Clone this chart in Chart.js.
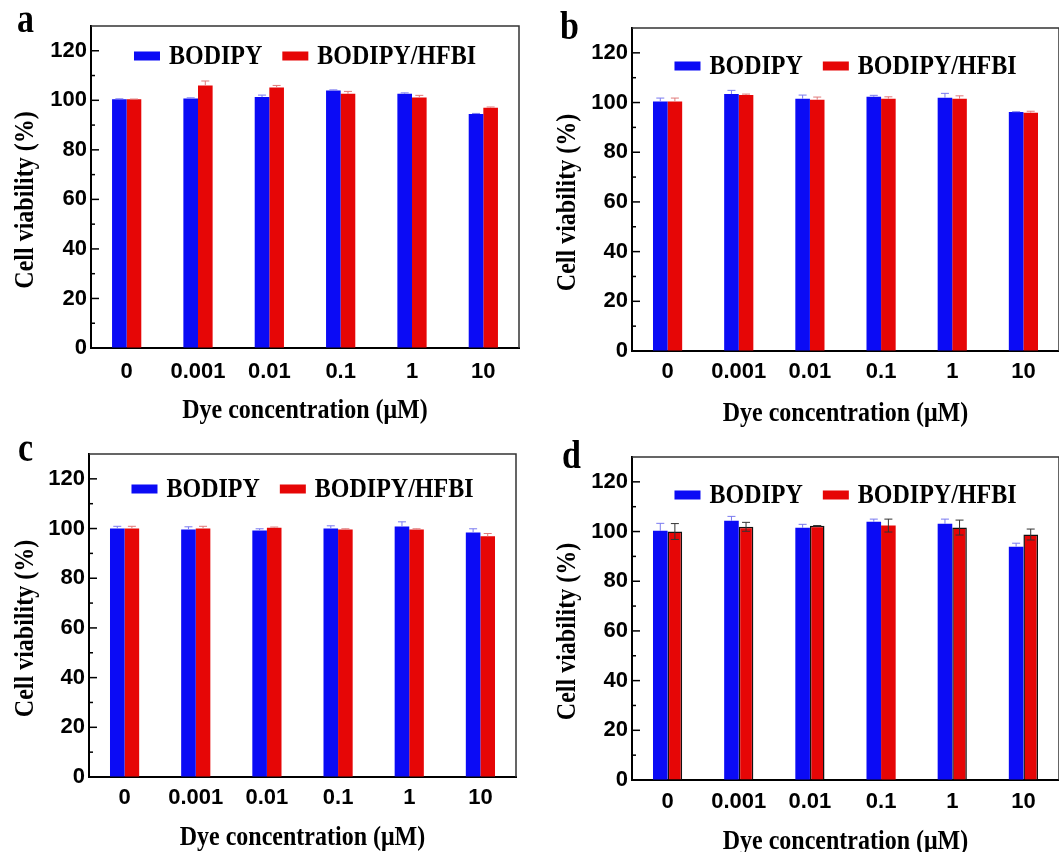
<!DOCTYPE html>
<html lang="en">
<head>
    <meta charset="UTF-8">
    <title>Cell viability - BODIPY vs BODIPY/HFBI</title>
    <script src="https://cdn.jsdelivr.net/npm/chart.js"></script>
    <style>
        html, body {
            margin: 0;
            padding: 0;
            background: #fff;
            overflow: hidden;
        }
        .panel {
            position: absolute;
        }
    </style>
</head>
<body>

    <div class="panel" style="left:0px; top:0px;"><canvas id="chartA" width="530" height="430"></canvas></div>
    <div class="panel" style="left:540px; top:0px;"><canvas id="chartB" width="519" height="430"></canvas></div>
    <div class="panel" style="left:0px; top:430px;"><canvas id="chartC" width="530" height="422"></canvas></div>
    <div class="panel" style="left:540px; top:430px;"><canvas id="chartD" width="519" height="422"></canvas></div>

    <script>
        // x categories (dye concentration, uM)
        const concentrations = ["0", "0.001", "0.01", "0.1", "1", "10"];
        const seriesNames = ["BODIPY", "BODIPY/HFBI"];
        const xTitle = "Dye concentration (\u03bcM)";
        const yTitle = "Cell viability (%)";

        // panel a
        const bodipyA    = [100.4, 100.7, 101.3, 104.0, 102.6, 94.5];
        const bodipyErrA = [0.2, 0.3, 0.8, 0.2, 0.4, 0.2];
        const hfbiA      = [100.4, 106.0, 105.2, 102.6, 101.1, 97.0];
        const hfbiErrA   = [0.1, 1.8, 0.8, 1.0, 0.9, 0.3];

        // panel b
        const bodipyB    = [100.4, 103.4, 101.5, 102.3, 101.9, 96.2];
        const bodipyErrB = [1.4, 1.5, 1.5, 0.6, 1.8, 0.1];
        const hfbiB      = [100.4, 103.0, 101.1, 101.5, 101.5, 95.9];
        const hfbiErrB   = [1.4, 0.4, 1.1, 0.8, 1.2, 0.6];

        // panel c
        const bodipyC    = [100.0, 99.6, 99.2, 100.0, 100.8, 98.4];
        const bodipyErrC = [0.9, 1.1, 0.7, 1.1, 1.9, 1.5];
        const hfbiC      = [100.0, 100.0, 100.3, 99.6, 99.6, 96.9];
        const hfbiErrC   = [0.9, 0.9, 0.3, 0.3, 0.3, 1.1];

        // panel d
        const bodipyD    = [100.3, 104.3, 101.5, 103.9, 103.1, 93.9];
        const bodipyErrD = [3.0, 1.8, 1.4, 1.1, 1.9, 1.4];
        const hfbiD      = [100.0, 101.9, 102.3, 102.4, 101.6, 98.8];
        const hfbiErrD   = [3.2, 1.8, 0.1, 2.6, 3.0, 2.2];

        const BLUE = "#0b0bf5";
        const RED = "#e60606";
        const SERIF = "'Liberation Serif', 'Times New Roman', serif";
        const SANS = "'Liberation Sans', Arial, sans-serif";
        const STRETCH = 1.17; // serif text in the figure is a bit taller than normal

        // draws text stretched vertically around its baseline
        function tallText(ctx, text, x, y, rot) {
            ctx.save();
            ctx.translate(x, y);
            if (rot) ctx.rotate(rot);
            ctx.scale(1, STRETCH);
            ctx.fillText(text, 0, 0);
            ctx.restore();
        }

        // error bars, frame, inward y ticks, legend, titles and panel letter
        const decorPlugin = {
            id: "decor",
            afterDatasetsDraw(chart) {
                const ctx = chart.ctx;
                const yScale = chart.scales.y;
                chart.data.datasets.forEach((ds, i) => {
                    const meta = chart.getDatasetMeta(i);
                    meta.data.forEach((bar, j) => {
                        const v = ds.data[j];
                        const e = ds.errors[j];
                        const yTop = yScale.getPixelForValue(v + e);
                        const yBot = ds.errBoth ? yScale.getPixelForValue(v - e) : yScale.getPixelForValue(v);
                        ctx.save();
                        ctx.strokeStyle = ds.errColor;
                        ctx.lineWidth = 1;
                        ctx.beginPath();
                        ctx.moveTo(bar.x, yTop);
                        ctx.lineTo(bar.x, yBot);
                        ctx.moveTo(bar.x - 4, yTop);
                        ctx.lineTo(bar.x + 4, yTop);
                        if (ds.errBoth) {
                            ctx.moveTo(bar.x - 4, yBot);
                            ctx.lineTo(bar.x + 4, yBot);
                        }
                        ctx.stroke();
                        ctx.restore();
                    });
                });
            },
            afterDraw(chart, args, opts) {
                const ctx = chart.ctx;
                const area = chart.chartArea;
                const yScale = chart.scales.y;
                ctx.save();

                // top and right frame
                ctx.strokeStyle = "#333";
                ctx.lineWidth = 1.5;
                ctx.beginPath();
                ctx.moveTo(area.left, area.top);
                ctx.lineTo(area.right, area.top);
                ctx.lineTo(area.right, area.bottom);
                ctx.stroke();

                // inward ticks on the y axis
                ctx.strokeStyle = "#000";
                ctx.lineWidth = 1.5;
                for (let v = 0; v <= 120; v += 10) {
                    const y = yScale.getPixelForValue(v);
                    const len = v % 20 === 0 ? 8 : 4;
                    ctx.beginPath();
                    ctx.moveTo(area.left, y);
                    ctx.lineTo(area.left + len, y);
                    ctx.stroke();
                }

                // legend inside the plot
                ctx.font = "bold 24px " + SERIF;
                ctx.textBaseline = "alphabetic";
                ctx.textAlign = "left";
                const items = chart.data.datasets.map(ds => ({
                    label: ds.label,
                    color: ds.backgroundColor,
                    w: ctx.measureText(ds.label).width
                }));
                let total = 0;
                items.forEach((it, k) => { total += 26 + 9 + it.w + (k > 0 ? 20 : 0); });
                let x = (area.left + area.right) / 2 - total / 2;
                const ly = area.top + opts.legendDy;
                items.forEach(it => {
                    ctx.fillStyle = it.color;
                    ctx.fillRect(x, ly - 4.5, 26, 9);
                    ctx.fillStyle = "#000";
                    tallText(ctx, it.label, x + 35, ly + 7.5);
                    x += 26 + 9 + it.w + 20;
                });

                // axis titles
                ctx.textAlign = "center";
                ctx.fillStyle = "#000";
                tallText(ctx, xTitle, (area.left + area.right) / 2, area.bottom + opts.xTitleDy);
                tallText(ctx, yTitle, opts.yTitleX, (area.top + area.bottom) / 2 + 13, -Math.PI / 2);

                // panel letter
                ctx.font = "bold 34px " + SERIF;
                ctx.textAlign = "left";
                tallText(ctx, opts.letter, opts.letterX, opts.letterY);
                ctx.restore();
            }
        };

        function makePanel(canvasId, letter, bodipy, bodipyErr, hfbi, hfbiErr, lay) {
            const ctx = document.getElementById(canvasId).getContext("2d");
            return new Chart(ctx, {
                type: "bar",
                data: {
                    labels: concentrations,
                    datasets: [
                        {
                            label: seriesNames[0],
                            data: bodipy,
                            errors: bodipyErr,
                            errColor: "#7a7af0",
                            errBoth: false,
                            backgroundColor: BLUE,
                            borderWidth: 0
                        },
                        {
                            label: seriesNames[1],
                            data: hfbi,
                            errors: hfbiErr,
                            errColor: lay.redOutline ? "#333" : "#e07a7a",
                            errBoth: lay.redOutline,
                            backgroundColor: RED,
                            borderColor: "#111",
                            borderWidth: lay.redOutline ? (c => c.dataIndex === 3 ? 0 : 1.5) : 0
                        }
                    ]
                },
                options: {
                    responsive: false,
                    animation: false,
                    devicePixelRatio: 1,
                    categoryPercentage: 0.41,
                    barPercentage: 1.0,
                    layout: {
                        padding: { top: lay.top, right: lay.right, left: 0, bottom: 0 }
                    },
                    plugins: {
                        legend: { display: false },
                        tooltip: { enabled: false },
                        decor: {
                            letter: letter, letterX: lay.letterX, letterY: lay.letterY,
                            legendDy: lay.legendDy, xTitleDy: lay.xTitleDy, yTitleX: lay.yTitleX
                        }
                    },
                    scales: {
                        x: {
                            grid: { display: true, drawOnChartArea: false, drawTicks: false },
                            border: { display: true, color: "#000", width: 2 },
                            ticks: {
                                color: "#000",
                                padding: lay.xTickPad,
                                font: { family: SANS, weight: "bold", size: 22 }
                            },
                            title: { display: false },
                            afterFit(scale) { scale.height = lay.xh; }
                        },
                        y: {
                            min: 0,
                            max: 130,
                            grid: { display: true, drawOnChartArea: false, drawTicks: false },
                            border: { display: true, color: "#000", width: 2 },
                            ticks: {
                                stepSize: 20,
                                includeBounds: false,
                                color: "#000",
                                padding: 4,
                                font: { family: SANS, weight: "bold", size: 22 }
                            },
                            title: { display: false },
                            afterFit(scale) { scale.width = lay.yw; }
                        }
                    }
                },
                plugins: [decorPlugin]
            });
        }

        makePanel("chartA", "a", bodipyA, bodipyErrA, hfbiA, hfbiErrA,
            { yw: 91, xh: 82, top: 26, right: 11, xTickPad: 11, legendDy: 30, xTitleDy: 70, yTitleX: 33, letterX: 17, letterY: 32, redOutline: false });
        makePanel("chartB", "b", bodipyB, bodipyErrB, hfbiB, hfbiErrB,
            { yw: 92, xh: 79, top: 28, right: 0, xTickPad: 8, legendDy: 38, xTitleDy: 70, yTitleX: 35, letterX: 20, letterY: 39, redOutline: false });
        makePanel("chartC", "c", bodipyC, bodipyErrC, hfbiC, hfbiErrC,
            { yw: 89, xh: 75, top: 24, right: 14, xTickPad: 8, legendDy: 35, xTitleDy: 68, yTitleX: 33, letterX: 18, letterY: 31, redOutline: false });
        makePanel("chartD", "d", bodipyD, bodipyErrD, hfbiD, hfbiErrD,
            { yw: 92, xh: 72, top: 27, right: 0, xTickPad: 9, legendDy: 38, xTitleDy: 69, yTitleX: 35, letterX: 22, letterY: 38, redOutline: true });
    </script>

</body>
</html>
